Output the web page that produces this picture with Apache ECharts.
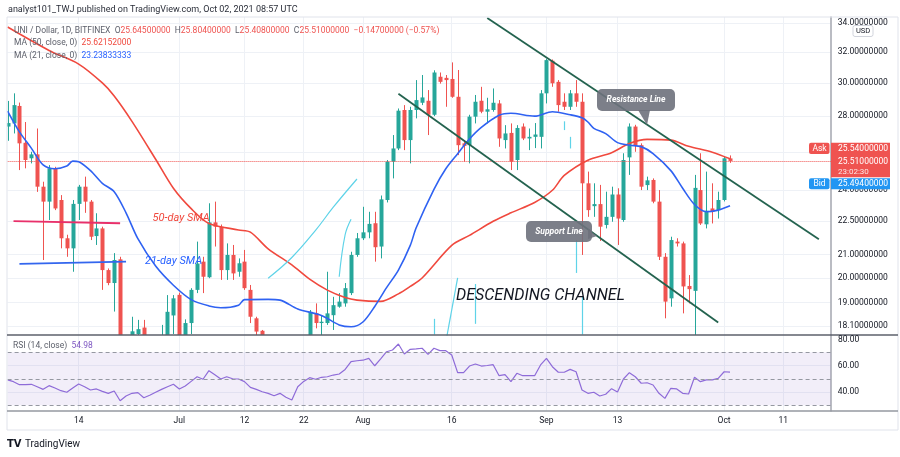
<!DOCTYPE html>
<html>
<head>
<meta charset="utf-8">
<script src="https://cdn.jsdelivr.net/npm/echarts@6/dist/echarts.min.js"></script>
<style>
html,body{margin:0;padding:0;background:#fff}
#main{width:900px;height:457px}
</style>
</head>
<body>
<div id="main"></div>
<script>
// daily categories, Jun 2 .. Oct 19 2021
var dates = [];
(function(){
    var d = new Date(Date.UTC(2021, 5, 2));
    for (var k = 0; k < 140; k++) {
        dates.push(d.toISOString().slice(0, 10));
        d.setUTCDate(d.getUTCDate() + 1);
    }
})();

var tickDates  = ['2021-06-14','2021-07-01','2021-07-12','2021-07-22','2021-08-01','2021-08-16','2021-09-01','2021-09-13','2021-10-01','2021-10-11'];
var tickLabels = ['14','Jul','12','22','Aug','16','Sep','13','Oct','11'];
var priceTicks = [18.1, 19, 20, 21, 22.5, 24, 26, 28, 30, 32, 34];
var rsiTicks   = [40, 60];
var rsiTopTick = 80;

// [open, close, low, high] from Jun 2
var ohlc = [
    [27.4,27.6,26.6,28.9],[27.58,28.65,27.01,29.36],[28.6,26.46,25.03,28.8],[26.49,25.56,25.12,27.66],[25.65,25.86,25.38,26.0],
    [25.86,24.18,23.92,27.29],[24.18,23.44,20.76,24.43],[23.44,25.12,22.56,25.29],[25.12,23.11,23.03,25.2],[23.52,21.72,21.27,23.76],
    [21.72,21.27,20.9,21.88],[21.27,23.33,20.26,23.52],[23.33,24.18,22.56,24.27],[24.18,23.44,22.9,24.69],[23.44,21.79,21.64,23.52],
    [21.82,22.17,21.42,22.88],[22.17,20.33,19.51,22.25],[20.33,19.79,19.7,20.4],[19.79,20.76,18.65,21.06],[20.79,17.3,16.9,20.9],
    [17.3,17.05,14.9,17.6],[17.2,17.9,17.0,18.45],[17.8,17.98,17.5,18.33],[18.04,17.0,16.6,18.33],[17.0,17.3,16.2,17.6],
    [17.3,17.6,16.9,17.7],[17.6,17.7,17.4,18.14],[17.7,18.64,17.5,19.3],[18.5,19.17,17.8,19.3],[19.31,17.7,17.2,19.4],
    [17.7,18.21,17.3,18.35],[18.21,19.51,17.8,19.58],[19.51,20.61,19.38,21.57],[20.69,20.05,19.38,20.9],[20.03,22.45,19.99,23.36],
    [22.45,22.25,21.35,23.44],[22.25,20.33,19.92,22.35],[20.33,20.98,19.92,21.49],[20.98,20.19,19.92,21.42],[20.26,20.62,20.05,20.83],
    [20.69,19.58,19.51,21.2],[19.51,18.45,18.21,19.71],[18.39,17.89,17.5,18.45],[17.92,17.2,16.9,17.95],[17.2,16.6,16.3,17.4],
    [16.6,16.4,16.0,16.9],[16.4,16.7,16.2,17.0],[16.7,16.0,15.8,16.9],[16.0,15.4,15.0,16.2],[15.4,16.9,15.3,17.3],
    [16.9,17.5,16.7,17.7],[17.6,18.64,17.4,18.71],[18.58,18.21,18.01,18.97],[18.21,18.26,17.7,18.51],[18.21,18.58,18.14,20.26],
    [18.51,18.9,17.95,19.23],[18.84,19.04,18.8,19.38],[18.97,19.58,18.84,19.79],[19.38,20.98,19.3,21.12],[20.98,21.72,20.9,21.96],
    [21.72,21.99,21.64,23.19],[21.99,22.38,21.72,22.95],[22.41,21.32,20.69,22.95],[21.35,23.55,20.83,23.74],[23.52,25.47,23.4,25.56],
    [25.47,26.18,24.6,26.92],[26.18,28.32,26.09,28.45],[28.36,26.64,26.09,28.65],[26.64,28.36,25.38,28.55],[28.36,28.95,27.87,30.18],
    [28.79,29.11,28.65,30.5],[28.91,28.08,26.92,29.56],[28.08,30.66,28.0,30.8],[30.39,30.07,29.96,30.66],[30.32,30.18,28.55,30.5],
    [30.25,29.15,29.09,31.31],[29.15,26.36,25.82,30.82],[26.46,26.32,25.47,26.64],[26.36,27.97,25.38,28.08],[27.97,28.85,27.58,29.26],
    [28.91,28.26,28.17,29.76],[28.26,28.4,27.58,29.09],[28.36,28.79,28.26,29.66],[28.75,26.73,26.27,28.95],[26.64,27.01,26.18,27.48],
    [27.04,25.47,25.03,27.58],[25.56,27.32,25.03,27.48],[27.4,26.73,26.64,27.58],[26.73,26.82,26.09,27.29],[26.82,26.95,26.2,27.6],
    [26.82,29.36,26.18,29.56],[29.36,31.46,28.75,31.55],[31.42,29.98,29.76,31.5],[30.07,28.65,28.26,30.18],[28.85,28.55,28.36,29.36],
    [28.55,29.36,28.36,29.56],[29.36,28.85,28.55,30.18],[28.85,24.35,20.98,29.36],[24.35,23.03,22.71,24.95],[23.22,23.32,22.71,24.35],
    [23.32,22.25,21.6,24.27],[22.33,22.71,22.17,23.93],[22.71,23.79,22.48,24.18],[23.79,22.63,21.42,24.1],[22.56,25.56,22.48,25.92],
    [25.7,27.4,24.78,27.58],[27.4,26.36,26.0,27.5],[26.36,24.18,24.01,26.46],[24.26,24.5,24.01,24.69],[24.52,23.44,23.36,24.6],
    [23.44,20.9,20.76,24.01],[20.9,19.04,18.39,21.06],[19.17,21.64,18.84,21.79],[21.57,21.49,21.35,21.72],[21.49,19.65,18.58,21.57],
    [19.67,19.54,18.97,20.12],[19.47,24.12,17.6,24.78],[24.01,22.4,22.33,25.92],[22.36,23.0,22.17,24.95],[23.11,22.95,22.4,24.35],
    [23.03,23.52,22.63,23.93],[23.52,25.65,23.45,25.74],[25.645,25.51,25.408,25.804]
];

var ma50 = [
    ['2021-06-02',33.7],['2021-06-09',32.1],['2021-06-14',31.2],['2021-06-18',30.0],['2021-06-20',29.2],['2021-06-23',27.7],
    ['2021-06-27',25.6],['2021-06-30',24.1],['2021-07-03',23.1],['2021-07-06',22.4],['2021-07-11',22.1],['2021-07-13',22.0],
    ['2021-07-16',21.25],['2021-07-20',20.55],['2021-07-23',19.95],['2021-07-26',19.5],['2021-07-29',19.2],['2021-07-31',19.1],
    ['2021-08-04',19.05],['2021-08-07',19.35],['2021-08-09',19.65],['2021-08-11',20.0],['2021-08-16',21.4],['2021-08-19',21.85],
    ['2021-08-23',22.5],['2021-08-26',22.9],['2021-08-30',23.4],['2021-09-02',24.0],['2021-09-04',24.75],['2021-09-08',25.55],
    ['2021-09-12',25.95],['2021-09-15',26.45],['2021-09-18',26.68],['2021-09-22',26.64],['2021-09-25',26.3],['2021-09-29',25.98],
    ['2021-10-02',25.62]
];
var ma21 = [
    ['2021-06-02',28.3],['2021-06-04',27.1],['2021-06-06',26.2],['2021-06-08',25.3],['2021-06-10',25.1],['2021-06-12',25.24],
    ['2021-06-13',25.5],['2021-06-14',25.47],['2021-06-16',25.0],['2021-06-18',24.35],['2021-06-20',23.93],['2021-06-22',22.9],
    ['2021-06-24',21.7],['2021-06-27',20.5],['2021-06-30',19.7],['2021-07-03',19.12],['2021-07-06',18.87],['2021-07-08',18.8],
    ['2021-07-11',18.9],['2021-07-12',19.12],['2021-07-16',19.13],['2021-07-18',19.1],['2021-07-21',18.75],['2021-07-25',18.5],
    ['2021-07-28',18.14],['2021-07-30',18.07],['2021-08-01',18.25],['2021-08-03',18.85],['2021-08-05',19.6],['2021-08-07',20.33],
    ['2021-08-09',21.4],['2021-08-10',22.2],['2021-08-13',24.05],['2021-08-15',25.1],['2021-08-17',25.9],['2021-08-19',26.7],
    ['2021-08-21',27.35],['2021-08-24',28.05],['2021-08-26',28.17],['2021-08-30',28.0],['2021-09-02',28.26],['2021-09-05',28.08],
    ['2021-09-07',27.9],['2021-09-08',27.66],['2021-09-09',27.3],['2021-09-11',27.0],['2021-09-13',26.5],['2021-09-15',26.36],
    ['2021-09-17',26.28],['2021-09-19',25.9],['2021-09-22',25.0],['2021-09-24',24.1],['2021-09-26',23.3],['2021-09-28',22.95],
    ['2021-09-30',23.03],['2021-10-02',23.24]
];

var rsi = [
    49.1,47.8,45.5,45.5,45.8,44,42,44.8,43,41,
    39.8,43,46,44,41.5,42.3,40.5,39,40.8,33.4,
    37,39,39.5,35.7,37.5,39.8,42,44,45.8,42.3,
    44.5,48,51.5,49.6,56.1,53,49.8,51.5,50,49.8,
    47.8,43.5,42,40.2,39,37.2,39,36,34,44,
    48,50.8,49.6,51.1,51.5,52.8,53.6,57,62.9,63.6,
    64,65.4,59.8,65,70.4,71.7,76.2,68.7,72.2,72.5,
    73,68.4,73,71.2,71.2,67.9,54.6,54.6,59.6,61.1,
    59.6,60,60.6,52.3,53.1,47.8,54.1,52.3,52.3,52.3,
    60.4,65.4,59.1,54.9,54.9,57.1,55.3,41.5,39,39.8,
    37,38.3,42.5,40,49.8,54.6,51.5,46.6,47,45.3,
    39,35.2,42.8,42.3,39,38.5,51.1,47.8,49.1,49.1,
    50.3,55.3,54.98
];
var rsiBand = [30, 70];
var rsiLevels = [70, 50, 30];

// drawings on the chart
var resistanceLine = [['2021-08-22',34.34],['2021-10-17',21.68]];
var supportLine    = [['2021-08-07',29.33],['2021-09-30',18.23]];
var sma50Marker    = [['2021-06-03',22.51],['2021-06-21',22.41]];
var sma21Marker    = [['2021-06-04',20.59],['2021-06-22',20.69]];
var cyanCurveA = [['2021-07-16',19.99],['2021-07-20',20.87],['2021-07-24',22.08],['2021-07-27',23.17],['2021-07-31',24.57]];
var cyanCurveB = [['2021-07-28',20.05],['2021-07-29',21.88],['2021-07-30',22.6]];
var cyanCurveC = [['2021-08-15',17.5],['2021-08-17',20.0]];
var cyanTicks  = [['2021-08-13',17.78,18.37],['2021-08-20',18.18,19.75],['2021-09-04',27.2,27.7],
                  ['2021-09-05',26.18,26.82],['2021-09-06',20.21,21.64],['2021-09-07',17.78,19.23]];

var lastClose = 25.51, askPrice = 25.54, bidPrice = 25.494;

var UP = '#26a69a', DOWN = '#ef5350', MA50C = '#f0493e', MA21C = '#2f62f2', RSIC = '#8e6bd8';
var FONT = 'Roboto';

function isTick(i, v){ return tickDates.indexOf(v) >= 0; }

function xAxisCfg(g, labels){
    return {
        type: 'category', gridIndex: g, data: dates, boundaryGap: false,
        axisLine: {show: false}, axisTick: {show: false},
        axisLabel: {
            show: labels, interval: isTick, margin: 5,
            color: '#131722', fontSize: 8.5, fontFamily: FONT,
            formatter: function(v){ return tickLabels[tickDates.indexOf(v)]; }
        },
        splitLine: {show: true, interval: isTick, lineStyle: {color: '#eef1f6', width: 1}}
    };
}

function drawn(data, color, width, smooth, extra){
    var s = {
        type: 'line', xAxisIndex: 0, yAxisIndex: 0, data: data,
        symbol: 'none', silent: true, smooth: smooth || false, z: 5,
        lineStyle: {color: color, width: width}
    };
    if (extra) for (var k in extra) s[k] = extra[k];
    return s;
}

// candle drawn through the axes, clipped to the price pane
function renderCandle(params, api){
    var idx = api.value(0), o = api.value(1), c = api.value(2), l = api.value(3), h = api.value(4);
    var pO = api.coord([idx, o]), pC = api.coord([idx, c]);
    var pL = api.coord([idx, l]), pH = api.coord([idx, h]);
    var x = Math.round(pO[0]);
    var color = c >= o ? UP : DOWN;
    var top = Math.min(pO[1], pC[1]), bot = Math.max(pO[1], pC[1]);
    return {
        type: 'group',
        children: [
            {type: 'line', shape: {x1: x + 0.5, y1: pH[1], x2: x + 0.5, y2: pL[1]}, style: {stroke: color, lineWidth: 1}},
            {type: 'rect', shape: {x: x - 1.5, y: top, width: 4, height: Math.max(1, bot - top)}, style: {fill: color}}
        ]
    };
}

var chart = echarts.init(document.getElementById('main'));
chart.setOption({
    animation: false,
    backgroundColor: '#ffffff',
    grid: [
        {left: 7.6, right: 69.3, top: 17, height: 318},
        {left: 7.6, right: 69.3, top: 335, height: 76}
    ],
    xAxis: [xAxisCfg(0, false), xAxisCfg(1, true)],
    yAxis: [
        {
            type: 'log', gridIndex: 0, position: 'right', min: 17.763, max: 34.41,
            axisLine: {show: true, lineStyle: {color: '#a3a6af', width: 1.5}},
            axisTick: {show: false, customValues: priceTicks},
            axisLabel: {
                customValues: priceTicks, margin: 7, color: '#131722', fontSize: 8.5, fontFamily: FONT,
                formatter: function(v){ return Number(v).toFixed(8); }
            },
            splitLine: {show: true, lineStyle: {color: '#eef1f6', width: 1}}
        },
        {
            type: 'value', gridIndex: 1, position: 'right', min: 25.66, max: 83.02,
            axisLine: {show: true, lineStyle: {color: '#a3a6af', width: 1.5}},
            axisTick: {show: false, customValues: rsiTicks},
            axisLabel: {
                customValues: rsiTicks, margin: 7, color: '#131722', fontSize: 8.5, fontFamily: FONT,
                formatter: function(v){ return Number(v).toFixed(2); }
            },
            splitLine: {show: true, lineStyle: {color: '#eef1f6', width: 1}}
        }
    ],
    series: [
        {
            type: 'custom', xAxisIndex: 0, yAxisIndex: 0, clip: true, silent: true,
            renderItem: renderCandle,
            encode: {x: 0, y: [1, 2, 3, 4]},
            data: ohlc.map(function(r, k){ return [k, r[0], r[1], r[2], r[3]]; }),
            markLine: {
                silent: true, symbol: 'none', label: {show: false},
                lineStyle: {color: DOWN, type: 'dotted', width: 1},
                data: [{yAxis: lastClose}]
            }
        },
        drawn(ma50, MA50C, 1.6, 0.3),
        drawn(ma21, MA21C, 1.6, 0.3),
        drawn(cyanCurveA, '#5fd3e8', 1.2, 0.4),
        drawn(cyanCurveB, '#5fd3e8', 1.2, 0.4),
        drawn(cyanCurveC, '#5fd3e8', 1.2, false, {
            markLine: {
                silent: true, symbol: 'none', label: {show: false},
                lineStyle: {color: '#5fd3e8', type: 'solid', width: 1.2},
                data: cyanTicks.map(function(t){ return [{coord: [t[0], t[1]]}, {coord: [t[0], t[2]]}]; })
            }
        }),
        drawn(resistanceLine, '#24634f', 1.8),
        drawn(supportLine, '#24634f', 1.8),
        drawn(sma50Marker, '#e8306a', 1.8),
        drawn(sma21Marker, '#3366ee', 1.8),
        {
            type: 'line', xAxisIndex: 1, yAxisIndex: 1, data: rsi, symbol: 'none', silent: true,
            lineStyle: {color: RSIC, width: 1.2},
            markArea: {
                silent: true, itemStyle: {color: 'rgba(126,87,194,0.10)'},
                data: [[{yAxis: rsiBand[0]}, {yAxis: rsiBand[1]}]]
            },
            markLine: {
                silent: true, symbol: 'none', label: {show: false},
                lineStyle: {color: '#9598a1', type: [4, 3], width: 1},
                data: rsiLevels.map(function(v){ return {yAxis: v}; })
            }
        }
    ]
});

// overlay texts and price tags
var yP = chart.convertToPixel({yAxisIndex: 0}, lastClose);
var y80 = chart.convertToPixel({yAxisIndex: 1}, rsiTopTick);
function txt(x, y, s, o){
    var st = {text: s, x: x, y: y, fill: '#131722', fontSize: 8.5, fontFamily: FONT, verticalAlign: 'middle', align: 'left'};
    if (o) for (var k in o) st[k] = o[k];
    return {type: 'text', z: 100, silent: true, style: st};
}
function box(x, y, w, h, fill, r, extra){
    var b = {type: 'rect', z: 99, silent: true, shape: {x: x, y: y, width: w, height: h, r: r || 0}, style: {fill: fill}};
    if (extra) for (var k in extra) b.style[k] = extra[k];
    return b;
}
var rich = {
    g: {fill: '#5d606b', fontSize: 8.5, fontFamily: FONT},
    r: {fill: DOWN, fontSize: 8.5, fontFamily: FONT},
    b: {fill: '#2962ff', fontSize: 8.5, fontFamily: FONT},
    m: {fill: MA50C, fontSize: 8.5, fontFamily: FONT},
    p: {fill: '#7e57c2', fontSize: 8.5, fontFamily: FONT}
};
var g = [
    // frame and separators
    {type: 'rect', z: 90, silent: true, shape: {x: 7, y: 17, width: 891, height: 413}, style: {fill: 'none', stroke: '#e0e3eb', lineWidth: 1}},
    {type: 'line', z: 91, silent: true, shape: {x1: 7, y1: 335, x2: 898, y2: 335}, style: {stroke: '#5d606b', lineWidth: 1.5}},
    {type: 'line', z: 91, silent: true, shape: {x1: 7, y1: 411, x2: 898, y2: 411}, style: {stroke: '#9598a1', lineWidth: 1.5}},
    txt(8, 10, 'analyst101_TWJ published on TradingView.com, Oct 02, 2021 08:57 UTC', {fontSize: 9, fill: '#2a2e39'}),
    txt(14, 30.7, '{g|UNI / Dollar, 1D, BITFINEX}  {g|O}{r|25.64500000}  {g|H}{r|25.80400000}  {g|L}{r|25.40800000}  {g|C}{r|25.51000000}  {r|\u22120.14700000 (\u22120.57%)}', {rich: rich}),
    txt(14, 42.7, '{g|MA (50, close, 0)}  {m|25.62152000}', {rich: rich}),
    txt(14, 55.7, '{g|MA (21, close, 0)}  {b|23.23833333}', {rich: rich}),
    txt(13, 346, '{g|RSI (14, close)}  {p|54.98}', {rich: rich}),
    txt(838, y80 + 1, rsiTopTick.toFixed(2)),
    // annotations
    txt(152.5, 218, '50-day SMA', {fill: MA50C, fontSize: 11, fontStyle: 'italic'}),
    txt(145, 261, '21-day SMA', {fill: '#2962ff', fontSize: 11, fontStyle: 'italic'}),
    txt(456, 296, 'DESCENDING CHANNEL', {fill: '#131722', fontSize: 16, fontStyle: 'italic'}),
    box(597, 89, 78, 22, 'rgba(110,113,124,0.9)', 5),
    {type: 'polygon', z: 99, silent: true, shape: {points: [[638, 110], [650, 110], [647, 125]]}, style: {fill: 'rgba(110,113,124,0.9)'}},
    txt(636, 100, 'Resistance Line', {fill: '#fff', fontSize: 8.5, fontStyle: 'italic', fontWeight: 'bold', align: 'center'}),
    box(526, 221, 66, 21, 'rgba(110,113,124,0.9)', 5),
    {type: 'polygon', z: 99, silent: true, shape: {points: [[588, 229], [588, 239], [597, 236]]}, style: {fill: 'rgba(110,113,124,0.9)'}},
    txt(559, 231.5, 'Support Line', {fill: '#fff', fontSize: 8.5, fontStyle: 'italic', fontWeight: 'bold', align: 'center'}),
    // price axis tags
    box(853, 25.5, 20, 11, '#ffffff', 2, {stroke: '#d1d4dc', lineWidth: 1}),
    txt(863, 31, 'USD', {fontSize: 7.5, align: 'center'}),
    box(809, yP - 18.2, 20.5, 11.3, DOWN, 2),
    txt(819.5, yP - 12.5, 'Ask', {fill: '#fff', align: 'center'}),
    box(831, yP - 18.2, 59, 11.3, DOWN, 0),
    txt(838, yP - 12.5, askPrice.toFixed(8), {fill: '#fff'}),
    box(831, yP - 6.9, 59, 23.3, DOWN, 0),
    txt(838, yP + 0.8, lastClose.toFixed(8), {fill: '#fff'}),
    txt(838, yP + 11.2, '23:02:30', {fill: 'rgba(255,255,255,0.85)', fontSize: 8}),
    box(809, yP + 17.4, 20.5, 11, '#2196f3', 2),
    txt(819.5, yP + 23, 'Bid', {fill: '#fff', align: 'center'}),
    box(831, yP + 17.4, 59, 11, '#2196f3', 0),
    txt(838, yP + 23, bidPrice.toFixed(8), {fill: '#fff'}),
    // logo
    txt(7, 444, 'TV', {fontSize: 10, fontWeight: 'bold', fontFamily: 'DejaVu Sans', fill: '#131722'}),
    txt(25, 444, 'TradingView', {fontSize: 10, fill: '#131722'})
];
chart.setOption({graphic: g});
</script>
</body>
</html>
